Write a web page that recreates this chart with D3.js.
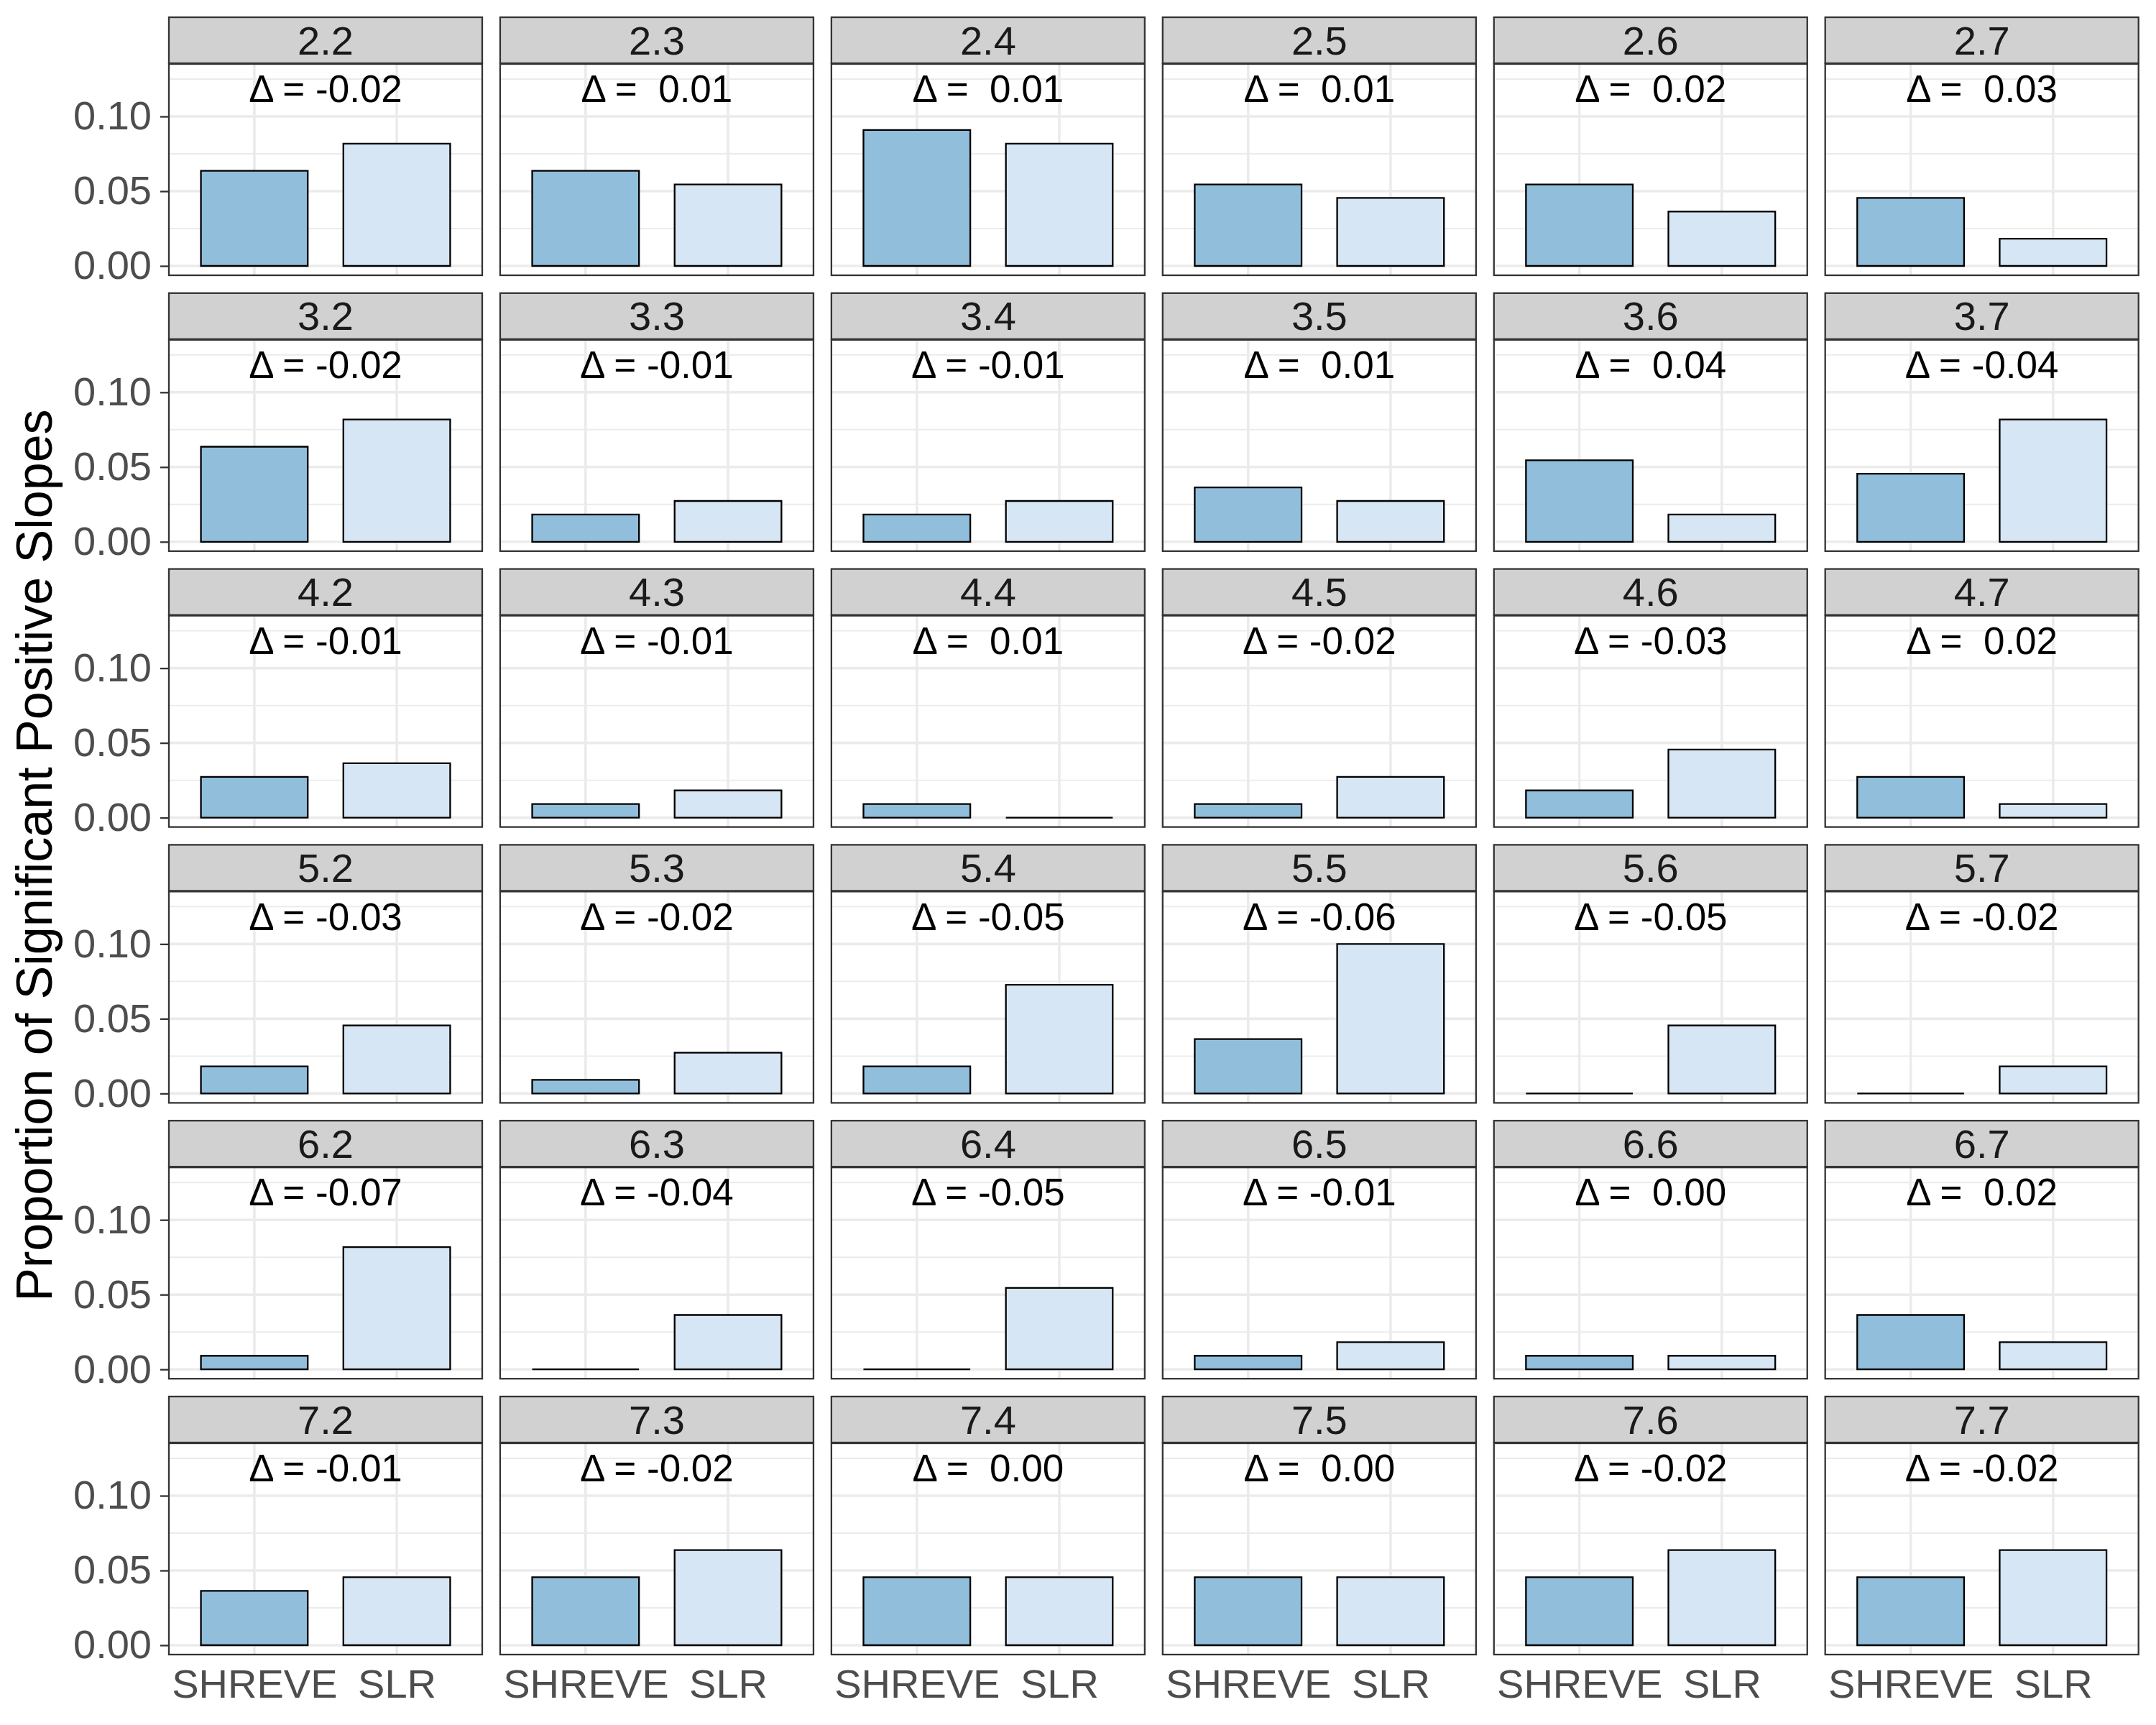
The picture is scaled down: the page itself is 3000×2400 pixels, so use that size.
<!DOCTYPE html>
<html>
<head>
<meta charset="utf-8">
<script src="https://cdn.jsdelivr.net/npm/d3@7"></script>
<style>
html,body{margin:0;padding:0;background:#fff;}
svg{display:block;}
text{font-family:"Liberation Sans",Arial,Helvetica,sans-serif;}
</style>
</head>
<body>
<script>
// ---------------- DATA ----------------
const facets = ["2.2","2.3","2.4","2.5","2.6","2.7",
                "3.2","3.3","3.4","3.5","3.6","3.7",
                "4.2","4.3","4.4","4.5","4.6","4.7",
                "5.2","5.3","5.4","5.5","5.6","5.7",
                "6.2","6.3","6.4","6.5","6.6","6.7",
                "7.2","7.3","7.4","7.5","7.6","7.7"];
const methods = ["SHREVE","SLR"];
const shreveValues = [0.0636,0.0636,0.0909,0.0545,0.0545,0.0455,
                      0.0636,0.0182,0.0182,0.0364,0.0545,0.0455,
                      0.0273,0.0091,0.0091,0.0091,0.0182,0.0273,
                      0.0182,0.0091,0.0182,0.0364,0.0000,0.0000,
                      0.0091,0.0000,0.0000,0.0091,0.0091,0.0364,
                      0.0364,0.0455,0.0455,0.0455,0.0455,0.0455];
const slrValues    = [0.0818,0.0545,0.0818,0.0455,0.0364,0.0182,
                      0.0818,0.0273,0.0273,0.0273,0.0182,0.0818,
                      0.0364,0.0182,0.0000,0.0273,0.0455,0.0091,
                      0.0455,0.0273,0.0727,0.1000,0.0455,0.0182,
                      0.0818,0.0364,0.0545,0.0182,0.0091,0.0182,
                      0.0455,0.0636,0.0455,0.0455,0.0636,0.0636];
const deltaValues  = [-0.02, 0.01, 0.01, 0.01, 0.02, 0.03,
                      -0.02,-0.01,-0.01, 0.01, 0.04,-0.04,
                      -0.01,-0.01, 0.01,-0.02,-0.03, 0.02,
                      -0.03,-0.02,-0.05,-0.06,-0.05,-0.02,
                      -0.07,-0.04,-0.05,-0.01, 0.00, 0.02,
                      -0.01,-0.02, 0.00, 0.00,-0.02,-0.02];
const yTicks = [0.00, 0.05, 0.10];
const yMinorTicks = [0.025, 0.075, 0.125];
const yTitle = "Proportion of Significant Positive Slopes";
const fillColors = ["#91BEDB", "#D6E6F4"];

// ---------------- LAYOUT ----------------
const W = 3000, H = 2400;
const nCols = 6;
const panelLeft0 = 235, colStep = 460.94, panelW = 436;
const stripTop0 = 24, rowStep = 383.8, stripH = 64, panelTopOff = 65, panelBotOff = 359;

const svg = d3.select("body").append("svg").attr("width", W).attr("height", H);

const x = d3.scalePoint().domain(methods).range([0, panelW]).padding(0.6);
const barW = x.step() * 0.75;

facets.forEach((f, i) => {
  const c = i % nCols, r = Math.floor(i / nCols);
  const px = panelLeft0 + c * colStep;
  const st = stripTop0 + r * rowStep;
  const pt = st + panelTopOff, pb = st + panelBotOff;
  const y = d3.scaleLinear().domain([-0.00625, 0.1351]).range([pb, pt]);
  const g = svg.append("g").attr("transform", `translate(${px},0)`);

  // panel background
  g.append("rect").attr("x", 0).attr("y", pt).attr("width", panelW).attr("height", pb - pt).attr("fill", "#fff");

  // minor grid
  g.selectAll(".ymin").data(yMinorTicks).enter().append("line")
    .attr("x1", 0).attr("x2", panelW).attr("y1", d => y(d)).attr("y2", d => y(d))
    .attr("stroke", "#EBEBEB").attr("stroke-width", 1.9);
  // major grid
  g.selectAll(".ymaj").data(yTicks).enter().append("line")
    .attr("x1", 0).attr("x2", panelW).attr("y1", d => y(d)).attr("y2", d => y(d))
    .attr("stroke", "#EBEBEB").attr("stroke-width", 3.6);
  g.selectAll(".xmaj").data(methods).enter().append("line")
    .attr("x1", d => x(d)).attr("x2", d => x(d)).attr("y1", pt).attr("y2", pb)
    .attr("stroke", "#EBEBEB").attr("stroke-width", 3.6);

  // bars (paths so zero-height bars still draw their outline)
  const vals = [shreveValues[i], slrValues[i]];
  g.selectAll(".bar").data(methods).enter().append("path")
    .attr("d", (m, k) => {
      const x0 = x(m) - barW / 2, x1 = x(m) + barW / 2;
      const y0 = y(0), y1 = y(vals[k]);
      return `M${x0},${y0}L${x0},${y1}L${x1},${y1}L${x1},${y0}Z`;
    })
    .attr("fill", (m, k) => fillColors[k])
    .attr("stroke", "#000").attr("stroke-width", 2.3);

  // delta annotation
  const dv = deltaValues[i];
  g.append("text")
    .attr("x", panelW / 2).attr("y", y(0.1095))
    .attr("text-anchor", "middle")
    .attr("font-size", 53).attr("fill", "#000")
    .style("white-space", "pre")
    .text("Δ = " + (dv < 0 ? "" : " ") + Math.abs(dv) .toFixed(2).replace(/^/, dv < 0 ? "-" : ""));

  // panel border
  g.append("rect").attr("x", 0).attr("y", pt).attr("width", panelW).attr("height", pb - pt)
    .attr("fill", "none").attr("stroke", "#333333").attr("stroke-width", 2.3);

  // strip
  g.append("rect").attr("x", 0).attr("y", st).attr("width", panelW).attr("height", stripH)
    .attr("fill", "#D1D1D1").attr("stroke", "#333333").attr("stroke-width", 2.3);
  g.append("text").attr("x", panelW / 2).attr("y", st + stripH / 2)
    .attr("dy", "0.35em").attr("text-anchor", "middle")
    .attr("font-size", 56).attr("fill", "#1A1A1A").text(f);

  // y axis on first column
  if (c === 0) {
    const ax = d3.axisLeft(y).tickValues(yTicks).tickFormat(d3.format(".2f")).tickSize(12).tickPadding(12);
    const a = g.append("g").call(ax);
    a.select(".domain").remove();
    a.selectAll(".tick line").attr("stroke", "#333333").attr("stroke-width", 2.3);
    a.selectAll(".tick text").attr("font-size", 56).attr("fill", "#4D4D4D")
      .attr("font-family", "Liberation Sans, Arial, sans-serif");
  }
  // x axis labels on bottom row
  if (r === Math.ceil(facets.length / nCols) - 1) {
    const ax = d3.axisBottom(x).tickSize(0).tickPadding(20);
    const a = g.append("g").attr("transform", `translate(0,${pb})`).call(ax);
    a.select(".domain").remove();
    a.selectAll(".tick text").attr("font-size", 56).attr("fill", "#4D4D4D")
      .attr("font-family", "Liberation Sans, Arial, sans-serif");
  }
});

// y axis title
svg.append("text")
  .attr("transform", "translate(72,1190) rotate(-90)")
  .attr("text-anchor", "middle")
  .attr("font-size", 70).attr("fill", "#000")
  .text(yTitle);
</script>
</body>
</html>
